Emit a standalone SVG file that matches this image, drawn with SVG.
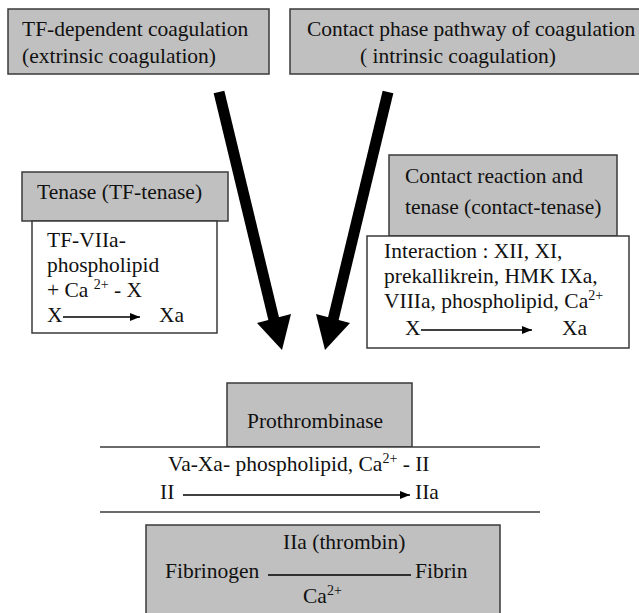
<svg xmlns="http://www.w3.org/2000/svg" width="639" height="613" viewBox="0 0 639 613">
<style>
.g{fill:#c0c0c0;stroke:#3a3a3a;stroke-width:1.5}
.w{fill:#ffffff;stroke:#3a3a3a;stroke-width:1.5}
text{font-family:"Liberation Serif","Times New Roman",serif;font-size:21.5px;fill:#111}
.sup{font-size:14px}
.ln{stroke:#000;stroke-width:1.5;fill:none}
</style>
<defs>
<marker id="ah" viewBox="0 0 10 8" refX="10" refY="4" markerWidth="10" markerHeight="8" markerUnits="userSpaceOnUse" orient="auto">
<path d="M0,0 L10,4 L0,8 Z" fill="#000"/>
</marker>
</defs>
<rect width="639" height="613" fill="#fff"/>
<g id="extrinsic">
<rect class="g" x="8" y="9" width="261" height="65"/>
<text x="22" y="36">TF-dependent coagulation</text>
<text x="22" y="63">(extrinsic coagulation)</text>
</g>
<g id="intrinsic">
<rect class="g" x="290" y="9" width="352" height="65"/>
<text x="307" y="36">Contact phase pathway of coagulation</text>
<text x="360" y="63">( intrinsic coagulation)</text>
</g>
<g id="tf-tenase">
<rect class="g" x="22" y="172" width="206" height="49"/>
<text x="37" y="199">Tenase (TF-tenase)</text>
<rect class="w" x="32" y="221" width="185" height="112"/>
<text x="47" y="247">TF-VIIa-</text>
<text x="47" y="272">phospholipid</text>
<text x="47" y="297">+ Ca <tspan class="sup" dy="-8">2+</tspan><tspan dy="8"> - X</tspan></text>
<text x="47" y="322">X</text>
<line class="ln" x1="63" y1="317" x2="140" y2="317" marker-end="url(#ah)"/>
<text x="159" y="322">Xa</text>
</g>
<g id="contact-tenase">
<rect class="g" x="389" y="155" width="228" height="81"/>
<text x="405" y="183">Contact reaction and</text>
<text x="405" y="214">tenase (contact-tenase)</text>
<rect class="w" x="367" y="236" width="262" height="112"/>
<text x="384" y="258">Interaction : XII, XI,</text>
<text x="384" y="283">prekallikrein, HMK IXa,</text>
<text x="384" y="308">VIIIa, phospholipid, Ca<tspan class="sup" dy="-8">2+</tspan></text>
<text x="405" y="335">X</text>
<line class="ln" x1="421" y1="330" x2="532" y2="330" marker-end="url(#ah)"/>
<text x="562" y="335">Xa</text>
</g>
<g id="prothrombinase">
<rect class="g" x="227" y="383" width="185" height="64"/>
<text x="247" y="428">Prothrombinase</text>
<rect x="100" y="447" width="440" height="65" fill="#fff"/>
<line x1="100" y1="447" x2="540" y2="447" stroke="#3a3a3a" stroke-width="1.5"/>
<line x1="100" y1="512" x2="540" y2="512" stroke="#3a3a3a" stroke-width="1.5"/>
<text x="168" y="471">Va-Xa- phospholipid, Ca<tspan class="sup" dy="-8">2+</tspan><tspan dy="8"> - II</tspan></text>
<text x="160" y="499">II</text>
<line class="ln" x1="183" y1="495" x2="410" y2="495" marker-end="url(#ah)"/>
<text x="415" y="499">IIa</text>
</g>
<g id="fibrin">
<rect class="g" x="146" y="525" width="354" height="95"/>
<text x="283" y="549">IIa (thrombin)</text>
<text x="165" y="578">Fibrinogen</text>
<line class="ln" x1="268" y1="575" x2="411" y2="575"/>
<text x="415" y="578">Fibrin</text>
<text x="303" y="603">Ca<tspan class="sup" dy="-8">2+</tspan></text>
</g>
<g id="connectors">
<line x1="219" y1="92" x2="274" y2="320" stroke="#000" stroke-width="11"/>
<polygon points="282,350 257,323 291,314" fill="#000"/>
<line x1="388" y1="92" x2="333" y2="320" stroke="#000" stroke-width="11"/>
<polygon points="325,350 316,314 350,323" fill="#000"/>
</g>
</svg>
